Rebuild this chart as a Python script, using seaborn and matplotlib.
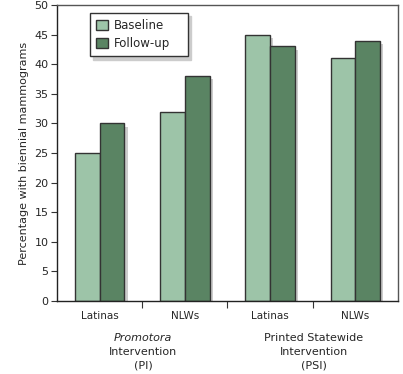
import matplotlib
matplotlib.use("Agg")
import matplotlib.pyplot as plt
import matplotlib.patheffects as pe
import seaborn as sns
import pandas as pd

groups = ["PI-Latinas", "PI-NLWs", "PSI-Latinas", "PSI-NLWs"]
group_labels = ["Latinas", "NLWs", "Latinas", "NLWs"]
baseline = [25, 32, 45, 41]
followup = [30, 38, 43, 44]
series = ["Baseline", "Follow-up"]
colors = ["#9dc4a8", "#5a8463"]

df = pd.DataFrame({
    "group": groups * 2,
    "series": [series[0]] * 4 + [series[1]] * 4,
    "value": baseline + followup,
})

sns.set_style("white")
plt.rcParams["font.family"] = ["DejaVu Sans"]

fig = plt.figure(figsize=(4.03, 3.74), dpi=100)
ax = fig.add_axes([0.1414, 0.1952, 0.9876 - 0.1414, 0.9866 - 0.1952])

sns.barplot(data=df, x="group", y="value", hue="series", order=groups,
            hue_order=series, palette=colors, width=0.58, dodge=True,
            edgecolor="#333333", linewidth=1.0, saturation=1, ax=ax,
            legend=True)

shadow = [pe.SimplePatchShadow(offset=(2.3, -2.3), shadow_rgbFace="#cccccc", alpha=1.0), pe.Normal()]
for p in ax.patches:
    p.set_path_effects(shadow)

ax.set_xlim(-0.5, 3.5)
ax.set_ylim(0, 50)
ax.set_yticks(range(0, 51, 5))
ax.tick_params(axis="y", labelsize=8, length=4, width=0.8, color="#333333", left=True, pad=2)

ax.set_xticks([0.5, 1.5, 2.5])
ax.set_xticklabels([])
ax.set_xticks([0, 1, 2, 3], minor=True)
ax.set_xticklabels(group_labels, minor=True, fontsize=7.5)
ax.tick_params(axis="x", which="major", length=5, width=0.8, color="#333333", bottom=True)
ax.tick_params(axis="x", which="minor", length=0, pad=7)
ax.set_xlabel("")
ax.set_ylabel("Percentage with biennial mammograms", fontsize=8, labelpad=4)

for s in ax.spines.values():
    s.set_visible(True)
    s.set_color("#555555")
    s.set_linewidth(1.0)
ax.spines["left"].set_color("#222222")
ax.spines["bottom"].set_color("#222222")

fig.text(143 / 403, 1 - 338 / 374, "Promotora", ha="center", va="center", fontsize=8, style="italic")
fig.text(143 / 403, 1 - 352 / 374, "Intervention", ha="center", va="center", fontsize=8)
fig.text(143 / 403, 1 - 366 / 374, "(PI)", ha="center", va="center", fontsize=8)
fig.text(314 / 403, 1 - 338 / 374, "Printed Statewide", ha="center", va="center", fontsize=8)
fig.text(314 / 403, 1 - 352 / 374, "Intervention", ha="center", va="center", fontsize=8)
fig.text(314 / 403, 1 - 366 / 374, "(PSI)", ha="center", va="center", fontsize=8)

leg = ax.legend(loc="upper left", bbox_to_anchor=(0.0968, 0.5, 0.287, 0.473),
                mode="expand", borderaxespad=0, fontsize=8.5,
                frameon=True, fancybox=False, shadow={"color": "#cccccc", "alpha": 1, "ox": 2.5, "oy": -2.5},
                handlelength=1.0, handleheight=1.0, handletextpad=0.5,
                borderpad=0.5, labelspacing=0.45, title=None)
leg.get_frame().set_edgecolor("#333333")
leg.get_frame().set_linewidth(1.0)
for h in leg.legend_handles:
    h.set_path_effects([])

fig.savefig("out.png", dpi=100)
